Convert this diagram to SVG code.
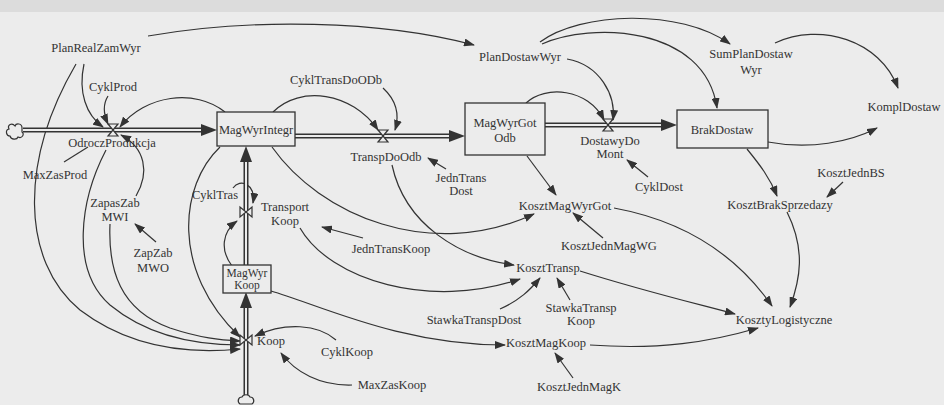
<svg xmlns="http://www.w3.org/2000/svg" width="944" height="405" viewBox="0 0 944 405">
<style>
text{font-family:"Liberation Serif","Times New Roman",serif}
.t{font-size:12.5px;fill:#333;text-anchor:middle}
.s{font-size:11.5px}
.c{fill:none;stroke:#333;stroke-width:1.2;marker-end:url(#ah)}
.cn{fill:none;stroke:#333;stroke-width:1.2}
.box{fill:#ececec;stroke:#333;stroke-width:1.3}
.po{fill:none;stroke:#333;stroke-width:5}
.pi{fill:none;stroke:#ececec;stroke-width:2}
.ph{fill:#333}
.v{fill:#ececec;stroke:#333;stroke-width:1.2}
.cl{fill:#ececec;stroke:#333;stroke-width:1.2}
</style>
<defs>
<marker id="ah" markerUnits="userSpaceOnUse" markerWidth="11" markerHeight="8" refX="10" refY="4" orient="auto">
<path d="M0,0 L11,4 L0,8 Z" fill="#333"/>
</marker>
</defs>
<rect x="0" y="0" width="944" height="405" fill="#ececec"/>
<rect x="0" y="0" width="944" height="12" fill="#dcdcdc"/>

<g id="connectors">
<path class="c" d="M148,36 C250,18 380,20 474,45"/>
<path class="c" d="M84,64 C78,92 86,115 103,127"/>
<path class="c" d="M108,96 C103,104 103,113 108,124"/>
<path class="c" d="M225,112 C195,88 145,95 120,127"/>
<path class="cn" d="M64,162 L88,147"/>
<path class="c" d="M136,196 C150,172 145,148 121,135"/>
<path class="c" d="M156,242 L135,224"/>
<path class="c" d="M76,64 C20,160 20,260 80,310 C130,348 190,354 240,349"/>
<path class="c" d="M106,150 C80,200 70,270 110,305 C150,338 200,345 240,345"/>
<path class="c" d="M110,224 C108,270 120,310 170,328 C200,338 220,340 240,341"/>
<path class="c" d="M220,147 C180,185 170,270 240,337"/>
<path class="c" d="M336,340 C318,324 285,322 255,336"/>
<path class="c" d="M352,385 C320,386 295,372 281,353"/>
<path class="c" d="M273,112 C300,85 352,92 378,130"/>
<path class="c" d="M383,88 C396,100 400,114 395,130"/>
<path class="c" d="M392,165 C405,225 460,258 514,265"/>
<path class="c" d="M446,169 L428,158"/>
<path class="c" d="M527,156 L556,195"/>
<path class="c" d="M603,238 L573,213"/>
<path class="c" d="M272,147 C320,215 430,262 534,214"/>
<path class="c" d="M363,238 L322,227"/>
<path class="c" d="M300,228 C330,280 430,310 520,279"/>
<path class="c" d="M500,309 C520,300 530,290 540,278"/>
<path class="c" d="M570,300 L557,278"/>
<path class="c" d="M271,291 C320,305 400,345 505,345"/>
<path class="c" d="M573,378 L555,353"/>
<path class="c" d="M580,271 C640,290 690,302 735,314"/>
<path class="c" d="M590,345 C660,350 710,342 758,328"/>
<path class="c" d="M614,208 C690,222 740,260 772,306"/>
<path class="c" d="M787,212 C806,250 800,280 790,307"/>
<path class="c" d="M567,59 C600,65 616,95 613,120"/>
<path class="c" d="M526,103 C545,85 588,88 604,120"/>
<path class="c" d="M648,177 L627,160"/>
<path class="c" d="M540,42 C580,12 680,8 730,44"/>
<path class="c" d="M542,44 C590,22 705,25 717,108"/>
<path class="c" d="M775,43 C820,22 880,40 898,88"/>
<path class="c" d="M768,142 C810,150 850,142 877,128"/>
<path class="c" d="M747,149 C760,165 770,178 777,196"/>
<path class="c" d="M843,182 L827,197"/>
<path class="c" d="M233,188 C240,178 256,184 253,203"/>
<path class="c" d="M232,266 C220,250 222,232 237,221"/>
</g>

<g id="pipes">
<path class="po" d="M23,130 H202"/><path class="pi" d="M23,130 H202"/>
<polygon class="ph" points="217,130 201,124 201,136"/>
<path class="po" d="M295,136 H450"/><path class="pi" d="M295,136 H450"/>
<polygon class="ph" points="465,136 449,130 449,142"/>
<path class="po" d="M545,125 H662"/><path class="pi" d="M545,125 H662"/>
<polygon class="ph" points="677,125 661,119 661,131"/>
<path class="po" d="M246,265 V161"/><path class="pi" d="M246,265 V161"/>
<polygon class="ph" points="246,146 240,162 252,162"/>
<path class="po" d="M246,397 V307"/><path class="pi" d="M246,397 V307"/>
<polygon class="ph" points="246,292 240,308 252,308"/>
</g>

<g id="cloud-left"><path class="cl" d="M22,128 C22,123 16,123 15,126 C12,122 7,125 9,129 C5,130 6,136 10,136 C11,140 17,140 18,137 C22,139 25,134 22,132 Z"/></g>
<g id="cloud-bottom"><path class="cl" d="M242,397 C238,397 237,402 240,404 L252,404 C255,402 254,397 250,397 C249,394 243,394 242,397 Z"/></g>

<g id="OdroczProdukcja"><polygon class="v" points="108,124 118,124 108,136 118,136"/><text class="t" x="112" y="147">OdroczProdukcja</text></g>
<g id="TranspDoOdb"><polygon class="v" points="378,130 388,130 378,142 388,142"/><text class="t" x="386" y="161">TranspDoOdb</text></g>
<g id="DostawyDoMont"><polygon class="v" points="603,119 613,119 603,131 613,131"/><text class="t" x="610" y="145">DostawyDo</text><text class="t" x="610" y="158">Mont</text></g>
<g id="TransportKoop"><polygon class="v" points="240,207 240,217 252,207 252,217"/><text class="t" x="285" y="211">Transport</text><text class="t" x="285" y="225">Koop</text></g>
<g id="Koop"><polygon class="v" points="240,335 240,345 252,335 252,345"/><text class="t" x="271" y="345">Koop</text></g>

<g id="MagWyrIntegr"><rect class="box" x="217" y="112" width="78" height="34"/><text class="t" x="256" y="134">MagWyrIntegr</text></g>
<g id="MagWyrGotOdb"><rect class="box" x="465" y="103" width="80" height="52"/><text class="t" x="505" y="127">MagWyrGot</text><text class="t" x="505" y="142">Odb</text></g>
<g id="BrakDostaw"><rect class="box" x="677" y="110" width="91" height="38"/><text class="t" x="722" y="134">BrakDostaw</text></g>
<g id="MagWyrKoop"><rect class="box" x="223" y="265" width="48" height="28"/><text class="t s" x="247" y="277">MagWyr</text><text class="t s" x="247" y="289">Koop</text></g>

<g id="PlanRealZamWyr"><text class="t" x="96" y="52">PlanRealZamWyr</text></g>
<g id="CyklProd"><text class="t" x="113" y="91">CyklProd</text></g>
<g id="CyklTransDoODb"><text class="t" x="336" y="84">CyklTransDoODb</text></g>
<g id="PlanDostawWyr"><text class="t" x="520" y="61">PlanDostawWyr</text></g>
<g id="SumPlanDostawWyr"><text class="t" x="751" y="58">SumPlanDostaw</text><text class="t" x="751" y="74">Wyr</text></g>
<g id="KomplDostaw"><text class="t" x="904" y="111">KomplDostaw</text></g>
<g id="MaxZasProd"><text class="t" x="55" y="179">MaxZasProd</text></g>
<g id="ZapasZabMWI"><text class="t" x="115" y="207">ZapasZab</text><text class="t" x="115" y="221">MWI</text></g>
<g id="ZapZabMWO"><text class="t" x="153" y="257">ZapZab</text><text class="t" x="153" y="272">MWO</text></g>
<g id="CyklTras"><text class="t" x="215" y="199">CyklTras</text></g>
<g id="JednTransDost"><text class="t" x="461" y="182">JednTrans</text><text class="t" x="461" y="195">Dost</text></g>
<g id="JednTransKoop"><text class="t" x="391" y="253">JednTransKoop</text></g>
<g id="KosztMagWyrGot"><text class="t" x="565" y="210">KosztMagWyrGot</text></g>
<g id="KosztJednMagWG"><text class="t" x="609" y="250">KosztJednMagWG</text></g>
<g id="CyklDost"><text class="t" x="659" y="191">CyklDost</text></g>
<g id="KosztJednBS"><text class="t" x="851" y="177">KosztJednBS</text></g>
<g id="KosztBrakSprzedazy"><text class="t" x="780" y="209">KosztBrakSprzedazy</text></g>
<g id="KosztTransp"><text class="t" x="548" y="272">KosztTransp</text></g>
<g id="StawkaTranspDost"><text class="t" x="474" y="324">StawkaTranspDost</text></g>
<g id="StawkaTranspKoop"><text class="t" x="581" y="312">StawkaTransp</text><text class="t" x="581" y="325">Koop</text></g>
<g id="KosztMagKoop"><text class="t" x="546" y="347">KosztMagKoop</text></g>
<g id="KosztJednMagK"><text class="t" x="579" y="391">KosztJednMagK</text></g>
<g id="CyklKoop"><text class="t" x="347" y="356">CyklKoop</text></g>
<g id="MaxZasKoop"><text class="t" x="392" y="389">MaxZasKoop</text></g>
<g id="KosztyLogistyczne"><text class="t" x="784" y="324">KosztyLogistyczne</text></g>
</svg>
